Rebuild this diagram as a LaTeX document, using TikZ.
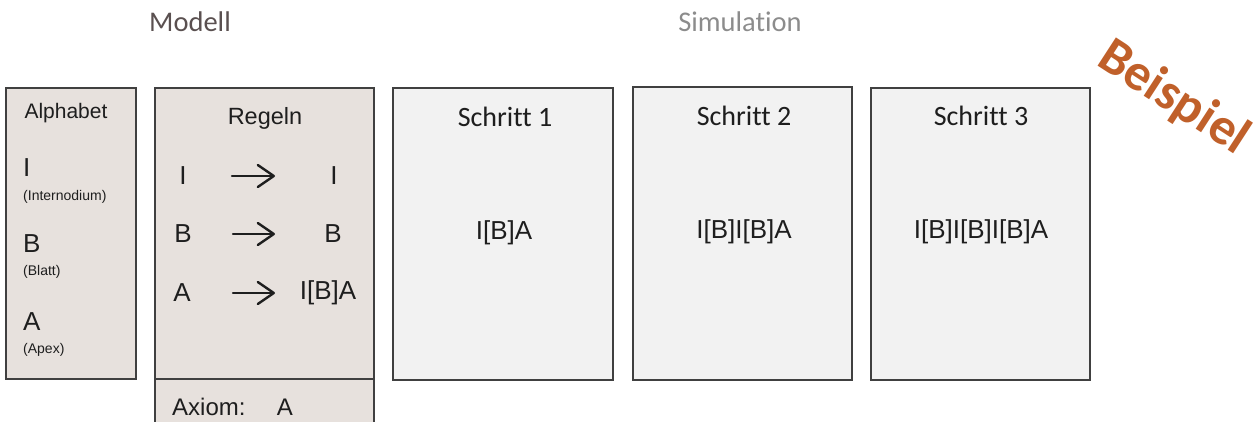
\documentclass[tikz,border=0pt]{standalone}
\usepackage{fontspec}
\setmainfont{Liberation Sans}
\newfontfamily\calib[Ligatures=NoCommon]{Carlito}
\usetikzlibrary{arrows.meta}
\definecolor{panelwarm}{HTML}{E7E1DD}
\definecolor{panelcool}{HTML}{F2F2F2}
\definecolor{frame}{HTML}{404040}
\definecolor{ink}{HTML}{1E1E1E}
\definecolor{modelltxt}{HTML}{5A5050}
\definecolor{simtxt}{HTML}{8C8C8C}
\definecolor{stamp}{HTML}{C0602A}
\tikzset{
  panel/.style={draw=frame, line width=1.6pt, inner sep=0pt},
  warm/.style={panel, fill=panelwarm},
  cool/.style={panel, fill=panelcool},
  heading/.style={font=\calib\fontsize{28.5}{32}\selectfont},
  steptitle/.style={text=ink, font=\calib\fontsize{28}{32}\selectfont},
  sym/.style={text=ink, font=\fontsize{26}{30}\selectfont, inner sep=0pt},
  note/.style={text=ink, font=\fontsize{14}{16}\selectfont, inner sep=0pt},
  rulearrow/.style={ink, line width=2.4pt, line cap=round,
    -{Straight Barb[length=16pt,width=22pt,line cap=round,line join=round]}},
}
\begin{document}
\begin{tikzpicture}[x=1pt,y=-1pt]
\useasboundingbox (0,0) rectangle (1259,421);
\clip (0,0) rectangle (1259,421);

% section headings
\node[heading, text=modelltxt] (modell) at (190,22) {Modell};
\node[heading, text=simtxt] (simulation) at (740,22) {Simulation};

% model panels
\node[warm, minimum width=130pt, minimum height=291pt] (alphabet) at (71,233.5) {};
\node[warm, minimum width=219pt, minimum height=291pt] (regeln) at (264.5,233.5) {};
\node[warm, minimum width=219pt, minimum height=60pt] (axiom) at (264.5,409) {};

% simulation panels
\node[cool, minimum width=220pt, minimum height=292pt] (s1) at (503,234) {};
\node[cool, minimum width=219pt, minimum height=293pt] (s2) at (742.5,233.5) {};
\node[cool, minimum width=219pt, minimum height=292pt] (s3) at (980.5,234) {};

% alphabet
\node[text=ink, font=\fontsize{21}{24}\selectfont] (alphT) at (66,113) {Alphabet};
\node[sym, anchor=west] (aI) at (23,168) {I};
\node[note, anchor=west] (aIn) at (23,197) {(Internodium)};
\node[sym, anchor=west] (aB) at (23,244) {B};
\node[note, anchor=west] (aBn) at (23,272) {(Blatt)};
\node[sym, anchor=west] (aA) at (23,322) {A};
\node[note, anchor=west] (aAn) at (23,350) {(Apex)};

% production rules
\node[text=ink, font=\fontsize{23.5}{27}\selectfont] (regT) at (265,118) {Regeln};
\node[sym] (l1) at (183,176) {I};
\node[sym] (r1) at (334,176) {I};
\node[sym] (l2) at (183,234) {B};
\node[sym] (r2) at (333,234) {B};
\node[sym] (l3) at (182,293) {A};
\node[sym] (r3) at (328,293) {I[B]A};
\coordinate (a1s) at (232,176); \coordinate (a1e) at (275,176);
\coordinate (a2s) at (233,234); \coordinate (a2e) at (275,234);
\coordinate (a3s) at (233,293); \coordinate (a3e) at (275,293);
\draw[rulearrow] (a1s) -- (a1e);
\draw[rulearrow] (a2s) -- (a2e);
\draw[rulearrow] (a3s) -- (a3e);

% axiom
\node[sym, font=\fontsize{24}{28}\selectfont, anchor=west] (axT) at (172,407) {Axiom:};
\node[sym, font=\fontsize{24}{28}\selectfont] (axV) at (285,407) {A};

% derivation steps
\node[steptitle] (s1T) at (505,117) {Schritt 1};
\node[steptitle] (s2T) at (744,116) {Schritt 2};
\node[steptitle] (s3T) at (981,116) {Schritt 3};
\node[sym] (s1V) at (504,233) {I[B]A};
\node[sym] (s2V) at (744,232) {I[B]I[B]A};
\node[sym] (s3V) at (981,232) {I[B]I[B]I[B]A};

% stamp
\node[text=stamp, font=\calib\bfseries\fontsize{52}{56}\selectfont, rotate=-33, anchor=base, inner sep=0pt] (beispiel) at (1166,110) {Beispiel};
\end{tikzpicture}
\end{document}
